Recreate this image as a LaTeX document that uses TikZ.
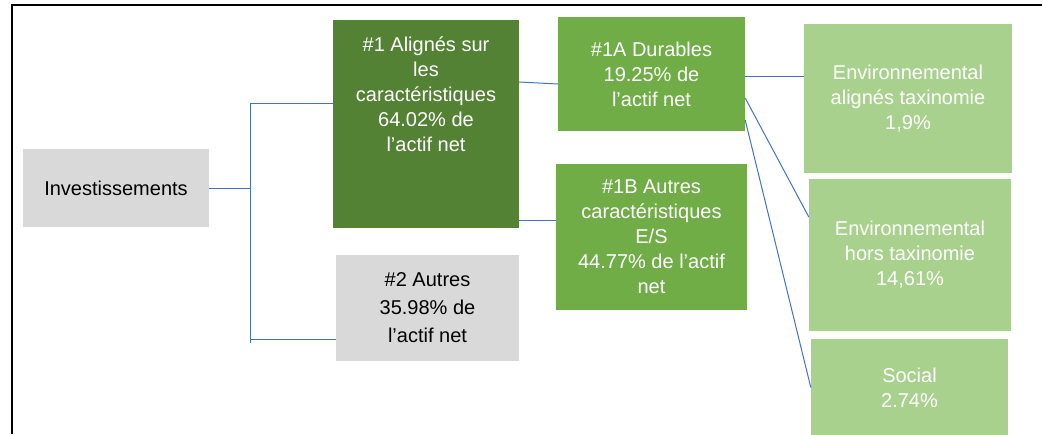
\documentclass[tikz,border=0pt]{standalone}
\usepackage{fontspec}
\setmainfont{Liberation Sans}
\usepackage{color}
\definecolor{linkblue}{HTML}{4472C4}
\definecolor{darkgreen}{HTML}{548235}
\definecolor{midgreen}{HTML}{70AD47}
\definecolor{lightgreen}{HTML}{A9D18E}
\definecolor{boxgray}{HTML}{D9D9D9}
\tikzset{
    box/.style={rectangle, inner sep=0pt, align=center}, % Flat boxes, no outline
    greybox/.style={box, fill=boxgray, text=black},
    darkbox/.style={box, fill=darkgreen, text=white},
    midbox/.style={box, fill=midgreen, text=white},
    lightbox/.style={box, fill=lightgreen, text=white},
}

\begin{document}
\begin{tikzpicture}[
    x=1pt, y=-1pt,
    every node/.style={font=\fontsize{20}{25}\selectfont},
    link/.style={draw=linkblue, line width=1pt}
]
    \useasboundingbox (0,0) rectangle (1042,434);

    % --- Frame ---
    \draw[line width=2pt] (12,434) -- (12,5) -- (1042,5);

    % --- Boxes ---
    \node[greybox, minimum width=186, minimum height=78] (inv) at (116,188) {Investissements};
    \node[darkbox, minimum width=186, minimum height=208,
          label={[box, text=white, anchor=north, yshift=-17pt]north:{\#1 Alignés sur\\les\\caractéristiques\\64.02\% de\\l’actif net}}]
          (al) at (426,124) {};
    \node[greybox, minimum width=183, minimum height=106,
          font=\fontsize{20}{28}\selectfont] (oth) at (427.5,308) {\#2 Autres\\35.98\% de\\l’actif net};

    \node[midbox, minimum width=187, minimum height=114] (dur) at (651.5,74) {\#1A Durables\\19.25\% de\\l’actif net};
    \node[midbox, minimum width=191, minimum height=146] (aes) at (651.5,237) {\#1B Autres\\caractéristiques\\E/S\\44.77\% de l’actif\\net};

    \node[lightbox, minimum width=208, minimum height=149] (tax) at (908,98.5) {Environnemental\\alignés taxinomie\\1,9\%};
    \node[lightbox, minimum width=202, minimum height=152] (hors) at (910,255) {Environnemental\\hors taxinomie\\14,61\%};
    \node[lightbox, minimum width=197, minimum height=97] (soc) at (909.5,387.5) {Social\\2.74\%};

    % --- Links ---
    \coordinate (jtop) at (250,103);
    \coordinate (jlow) at (250,339);
    \coordinate (jbot) at (250,343);
    \draw[link] (jtop) -- (jbot);
    \draw[link] (inv.east) -- (inv.east -| jtop);
    \draw[link] (jtop) -- (jtop -| al.west);
    \draw[link] (jlow) -- (jlow -| oth.west);

    \path[link]
        ([yshift=42pt]al.east) edge ([yshift=-10pt]dur.west)
        ([yshift=-96pt]al.east) edge ([yshift=17pt]aes.west)

        ([yshift=-2pt]dur.east) edge ([yshift=22.5pt]tax.west)
        ([yshift=-24pt]dur.east) edge ([yshift=38pt]hors.west)
        ([yshift=-46pt]dur.east) edge (soc.west);

\end{tikzpicture}
\end{document}
